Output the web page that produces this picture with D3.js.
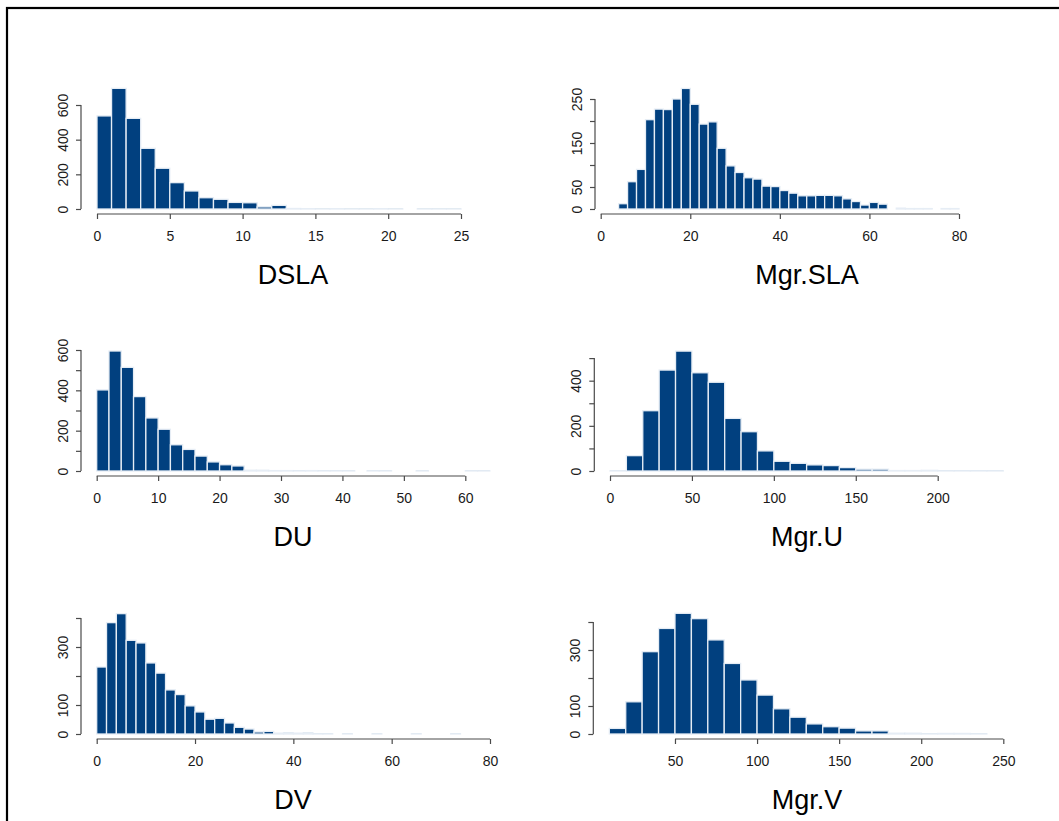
<!DOCTYPE html>
<html>
<head>
<meta charset="utf-8">
<script src="https://cdn.jsdelivr.net/npm/d3@7"></script>
<style>
  html, body { margin: 0; padding: 0; background: #fff; }
  svg { display: block; font-family: "Liberation Sans", Arial, sans-serif; }
</style>
</head>
<body>
<svg id="chart" width="1059" height="821"></svg>
<script>
// ---- histogram counts (one value per bin) ----
const dslaCounts = [537, 696, 523, 350, 235, 152, 104, 65, 56, 38, 36, 12, 21, 3, 2, 1, 2, 1, 1, 2, 1, 0, 1, 1, 1];
const dslaBreakStart = 0, dslaBinWidth = 1;

const mgrSlaCounts = [12, 62, 90, 203, 227, 226, 250, 274, 238, 193, 198, 138, 98, 83, 71, 68, 52, 51, 42, 36,
                      30, 30, 31, 31, 30, 23, 17, 9, 15, 11, 0, 2, 1, 1, 1, 0, 1, 1];
const mgrSlaBreakStart = 4, mgrSlaBinWidth = 2;

const duCounts = [402, 595, 514, 369, 263, 207, 130, 107, 74, 45, 31, 25, 4, 4, 2, 2, 1, 2, 1, 1,
                  1, 0, 1, 1, 0, 0, 1, 0, 0, 0, 1, 1];
const duBreakStart = 0, duBinWidth = 2;

const mgrUCounts = [1, 68, 267, 447, 531, 435, 393, 233, 174, 89, 43, 34, 27, 24, 15, 8, 8, 2, 2, 3, 1, 1, 1, 1];
const mgrUBreakStart = 0, mgrUBinWidth = 10;

const dvCounts = [231, 384, 415, 323, 314, 245, 210, 152, 136, 97, 76, 51, 54, 38, 23, 17, 7, 9, 3, 4,
                  3, 4, 1, 1, 0, 1, 0, 0, 1, 0, 0, 0, 1, 0, 0, 0, 1, 0, 0];
const dvBreakStart = 0, dvBinWidth = 2;

const mgrVCounts = [20, 115, 294, 377, 431, 412, 336, 252, 193, 139, 90, 60, 36, 26, 21, 11, 11, 3, 3, 1, 2, 2, 1];
const mgrVBreakStart = 10, mgrVBinWidth = 10;

// ---- axis ticks and printed tick labels ----
const dslaXTicks = [0, 5, 10, 15, 20, 25];
const dslaYTicks = [0, 200, 400, 600];
const dslaYLabels = [0, 200, 400, 600];

const mgrSlaXTicks = [0, 20, 40, 60, 80];
const mgrSlaYTicks = [0, 50, 100, 150, 200, 250];
const mgrSlaYLabels = [0, 50, 150, 250];

const duXTicks = [0, 10, 20, 30, 40, 50, 60];
const duYTicks = [0, 100, 200, 300, 400, 500, 600];
const duYLabels = [0, 200, 400, 600];

const mgrUXTicks = [0, 50, 100, 150, 200];
const mgrUYTicks = [0, 100, 200, 300, 400, 500];
const mgrUYLabels = [0, 200, 400];

const dvXTicks = [0, 20, 40, 60, 80];
const dvYTicks = [0, 100, 200, 300, 400];
const dvYLabels = [0, 100, 300];

const mgrVXTicks = [50, 100, 150, 200, 250];
const mgrVYTicks = [0, 100, 200, 300, 400];
const mgrVYLabels = [0, 100, 300];

// ---- panel layout (pixel frames for each histogram) ----
const panels = [
  { title: "DSLA", counts: dslaCounts, start: dslaBreakStart, width: dslaBinWidth,
    xTicks: dslaXTicks, yTicks: dslaYTicks, yLabels: dslaYLabels,
    xDomain: [0, 25], xRange: [97, 461], yDomain: [0, 600], yRange: [209, 105],
    yAxisX: 81, titleX: 293 },
  { title: "Mgr.SLA", counts: mgrSlaCounts, start: mgrSlaBreakStart, width: mgrSlaBinWidth,
    xTicks: mgrSlaXTicks, yTicks: mgrSlaYTicks, yLabels: mgrSlaYLabels,
    xDomain: [0, 80], xRange: [600.7, 959], yDomain: [0, 250], yRange: [209, 99],
    yAxisX: 595, titleX: 807 },
  { title: "DU", counts: duCounts, start: duBreakStart, width: duBinWidth,
    xTicks: duXTicks, yTicks: duYTicks, yLabels: duYLabels,
    xDomain: [0, 60], xRange: [96.7, 465.3], yDomain: [0, 600], yRange: [471, 350],
    yAxisX: 81, titleX: 293 },
  { title: "Mgr.U", counts: mgrUCounts, start: mgrUBreakStart, width: mgrUBinWidth,
    xTicks: mgrUXTicks, yTicks: mgrUYTicks, yLabels: mgrUYLabels,
    xDomain: [0, 200], xRange: [610, 937.7], yDomain: [0, 500], yRange: [471, 358.1],
    yAxisX: 594.3, titleX: 807 },
  { title: "DV", counts: dvCounts, start: dvBreakStart, width: dvBinWidth,
    xTicks: dvXTicks, yTicks: dvYTicks, yLabels: dvYLabels,
    xDomain: [0, 80], xRange: [96.7, 490], yDomain: [0, 400], yRange: [734, 618],
    yAxisX: 81, titleX: 293 },
  { title: "Mgr.V", counts: mgrVCounts, start: mgrVBreakStart, width: mgrVBinWidth,
    xTicks: mgrVXTicks, yTicks: mgrVYTicks, yLabels: mgrVYLabels,
    xDomain: [0, 250], xRange: [592.9, 1003.3], yDomain: [0, 400], yRange: [734, 622],
    yAxisX: 593.3, titleX: 807 }
];

const BAR_FILL = "#01407f";
const BAR_EDGE = "#e6edf5";
const AXIS_COLOR = "#4a4a4a";

const svg = d3.select("#chart");

// outer frame
svg.append("rect")
  .attr("x", 7).attr("y", 8)
  .attr("width", 1100).attr("height", 900)
  .attr("fill", "none").attr("stroke", "#000").attr("stroke-width", 2.2);

panels.forEach(p => {
  const g = svg.append("g");
  const x = d3.scaleLinear().domain(p.xDomain).range(p.xRange);
  const y = d3.scaleLinear().domain(p.yDomain).range(p.yRange);

  const bins = p.counts.map((c, i) => ({
    x0: p.start + i * p.width,
    x1: p.start + (i + 1) * p.width,
    count: c
  }));

  // bars
  g.append("g").selectAll("rect")
    .data(bins.filter(b => b.count > 0))
    .join("rect")
      .attr("x", d => x(d.x0))
      .attr("width", d => x(d.x1) - x(d.x0))
      .attr("y", d => y(d.count))
      .attr("height", d => y(0) - y(d.count))
      .attr("fill", BAR_FILL)
      .attr("stroke", BAR_EDGE)
      .attr("stroke-width", 1.3);

  // x axis, drawn below the bar baseline
  const xAxisY = y(0) + 5;
  const xAxis = g.append("g")
    .attr("transform", `translate(0,${xAxisY})`)
    .call(d3.axisBottom(x).tickValues(p.xTicks).tickSize(5).tickSizeOuter(0).tickFormat(d3.format("d")));
  xAxis.select(".domain")
    .attr("d", `M${x(p.xTicks[0])},0H${x(p.xTicks[p.xTicks.length - 1])}`)
    .attr("stroke", AXIS_COLOR).attr("stroke-width", 1.2);
  xAxis.selectAll(".tick line").attr("stroke", AXIS_COLOR).attr("stroke-width", 1.2);
  xAxis.selectAll(".tick text")
    .attr("y", 17).attr("dy", "0.71em")
    .attr("fill", "#1a1a1a")
    .style("font-size", "14px")
    .style("font-family", "'Liberation Sans', Arial, sans-serif");

  // y axis, set left of the plotting area
  const yAxis = g.append("g")
    .attr("transform", `translate(${p.yAxisX},0)`)
    .call(d3.axisLeft(y).tickValues(p.yTicks).tickSize(5).tickSizeOuter(0)
      .tickFormat(d => p.yLabels.includes(d) ? d3.format("d")(d) : ""));
  yAxis.select(".domain")
    .attr("d", `M0,${y(p.yTicks[0])}V${y(p.yTicks[p.yTicks.length - 1])}`)
    .attr("stroke", AXIS_COLOR).attr("stroke-width", 1.2);
  yAxis.selectAll(".tick line").attr("stroke", AXIS_COLOR).attr("stroke-width", 1.2);
  yAxis.selectAll(".tick text")
    .attr("x", 0).attr("dy", 0)
    .attr("text-anchor", "middle")
    .attr("transform", "translate(-13,0) rotate(-90)")
    .attr("fill", "#1a1a1a")
    .style("font-size", "14px")
    .style("font-family", "'Liberation Sans', Arial, sans-serif");

  // panel title under the x axis
  g.append("text")
    .attr("x", p.titleX)
    .attr("y", y(0) + 75)
    .attr("text-anchor", "middle")
    .attr("fill", "#000")
    .style("font-size", "27px")
    .text(p.title);
});
</script>
</body>
</html>
